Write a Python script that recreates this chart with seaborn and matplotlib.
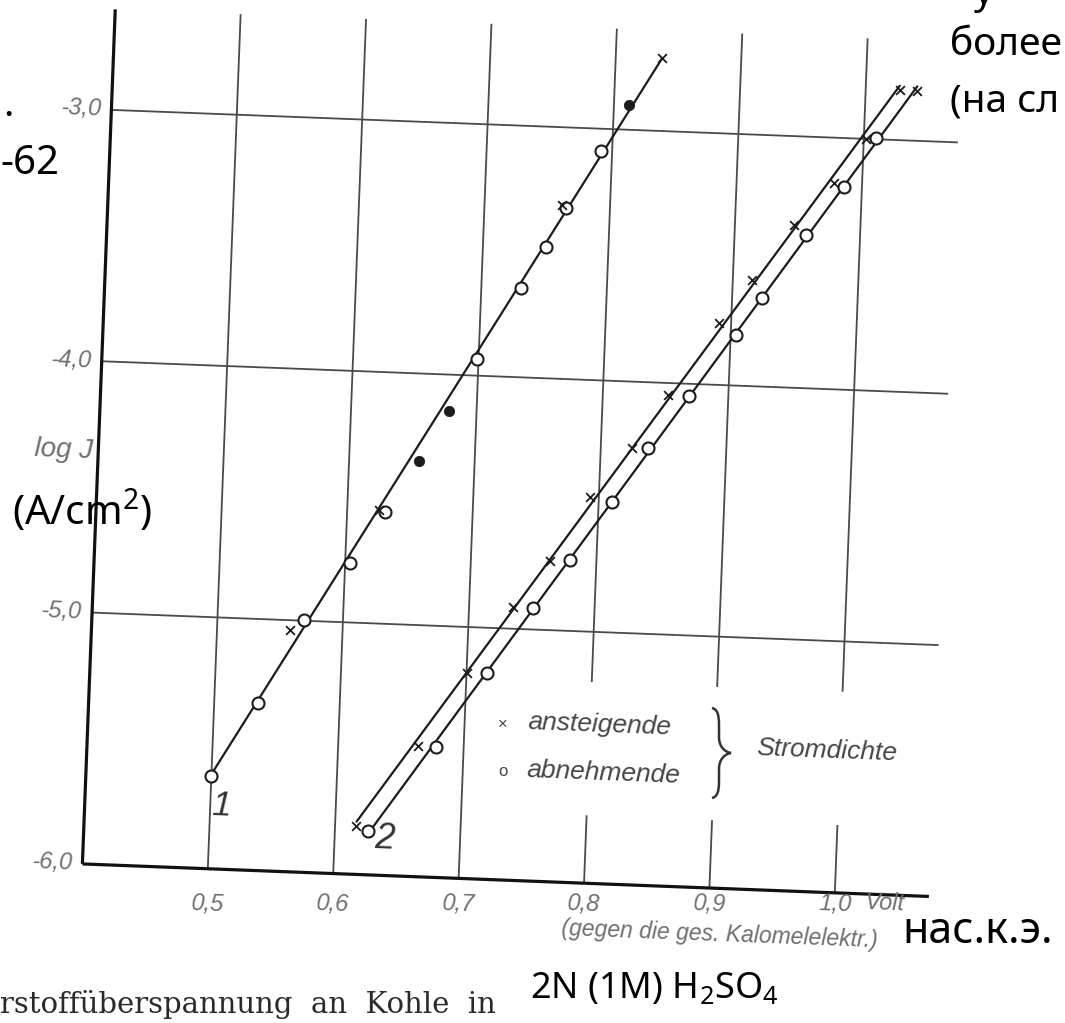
import numpy as np
import pandas as pd
import matplotlib
matplotlib.use("Agg")
import matplotlib.pyplot as plt
from matplotlib.path import Path
from matplotlib.patches import PathPatch, Rectangle
from matplotlib.transforms import Affine2D
import seaborn as sns

# ---------------- data ----------------
# curve 1
c1_x_V = [0.837, 0.762, 0.625, 0.558]
c1_x_L = [-2.709, -3.31, -4.55, -5.039]
c1_o_V = [0.791, 0.765, 0.750, 0.732, 0.699, 0.630, 0.604, 0.569, 0.535, 0.500]
c1_o_L = [-3.090, -3.320, -3.477, -3.646, -3.935, -4.556, -4.764, -4.997, -5.334, -5.630]
c1_f_V = [0.812, 0.678, 0.656]
c1_f_L = [-2.90, -4.143, -4.348]
# curve 2, upper line (ascending current density)
c2a_x_V = [1.027, 1.002, 0.978, 0.947, 0.915, 0.890, 0.852, 0.825, 0.793, 0.763, 0.735, 0.700, 0.664, 0.617]
c2a_x_L = [-2.800, -3.000, -3.179, -3.354, -3.579, -3.754, -4.047, -4.265, -4.466, -4.724, -4.913, -5.183, -5.482, -5.806]
# curve 2, lower line (descending current density)
c2b_x_V = [1.041]
c2b_x_L = [-2.801]
c2b_o_V = [1.010, 0.986, 0.957, 0.924, 0.904, 0.869, 0.838, 0.811, 0.779, 0.751, 0.716, 0.678, 0.626]
c2b_o_L = [-2.996, -3.193, -3.392, -3.647, -3.798, -4.050, -4.262, -4.480, -4.718, -4.916, -5.178, -5.482, -5.824]

x_ticks = [0.5, 0.6, 0.7, 0.8, 0.9, 1.0]
x_tick_labels = ["0,5", "0,6", "0,7", "0,8", "0,9", "1,0"]
y_ticks = [-6.0, -5.0, -4.0, -3.0]
y_tick_labels = ["-6,0", "-5,0", "-4,0", "-3,0"]
grid_y = [-5.0, -4.0, -3.0]

rows = []
def add(curve, mark, Vs, Ls):
    for v, l in zip(Vs, Ls):
        rows.append(dict(V=v, L=l, curve=curve, mark=mark))
add("1", "x", c1_x_V, c1_x_L)
add("1", "o", c1_o_V, c1_o_L)
add("1", "filled", c1_f_V, c1_f_L)
add("2a", "x", c2a_x_V, c2a_x_L)
add("2b", "x", c2b_x_V, c2b_x_L)
add("2b", "o", c2b_o_V, c2b_o_L)
df = pd.DataFrame(rows)

# ---------------- figure ----------------
sns.set_style("white")
plt.rcParams["mathtext.fontset"] = "custom"
plt.rcParams["mathtext.rm"] = "Noto Sans"
plt.rcParams["mathtext.it"] = "Noto Sans:italic"

W, H = 1065, 1023
fig = plt.figure(figsize=(W / 100, H / 100), dpi=100)
x0, x1, y0, y1 = 98.5, 945.6, 25.9, 881.1
ax = fig.add_axes([x0 / W, 1 - y1 / H, (x1 - x0) / W, (y1 - y0) / H])

XL, XR = 0.40, 1.075
YB, YT = -6.0, -2.6
ax.set_xlim(XL, XR)
ax.set_ylim(YB, YT)
ax.set_autoscale_on(False)
ax.axis("off")

# the scanned page is slightly rotated: rotate the whole plotting frame
ANG = 2.2
R = Affine2D().rotate_deg_around(537.7, H - 453.5, -ANG)
T = ax.transData + R

ink = "#1c1c1c"
gridc = "#4a4a4a"
labc = "#6e6e6e"
sans = ["Liberation Sans", "DejaVu Sans"]
over = ["Noto Sans", "DejaVu Sans"]

def rotated(artist):
    artist.set_transform(T)
    artist.set_clip_on(False)

# grid
rotated(ax.vlines(x_ticks, YB, YT, color=gridc, lw=1.3, zorder=1))
rotated(ax.hlines(grid_y, XL, XR, color=gridc, lw=1.3, zorder=1))
# axis lines
for xs, ys in (([XL, XL], [YB, YT]), ([XL, XR], [YB, YB])):
    rotated(ax.plot(xs, ys, color="#111111", lw=2.3, zorder=2,
                    solid_capstyle="butt")[0])

# white area of the legend interrupts the grid
box = Rectangle((0.72, -5.73), 0.36, 0.53, facecolor="white", edgecolor="none", zorder=2)
ax.add_patch(box)
rotated(box)

# fitted straight lines per curve
for cv, sub in df[df["mark"] != "filled"].groupby("curve"):
    n0 = len(ax.lines)
    sns.regplot(data=sub, x="V", y="L", scatter=False, ci=None, truncate=True,
                line_kws=dict(color=ink, lw=1.6, zorder=3), ax=ax)
    for ln in ax.lines[n0:]:
        rotated(ln)

# markers
def scat(**kw):
    before = list(ax.collections)
    sns.scatterplot(ax=ax, legend=False, **kw)
    for c in ax.collections:
        if c not in before:
            c.set_offset_transform(T)
            c.set_clip_on(False)

scat(data=df[df["mark"] == "o"], x="V", y="L", marker="o", s=75,
     facecolor="white", edgecolor=ink, linewidth=1.5, zorder=4)
scat(data=df[df["mark"] == "filled"], x="V", y="L", marker="o", s=55,
     color=ink, edgecolor=ink, zorder=4)
scat(data=df[df["mark"] == "x"], x="V", y="L", marker="x", s=40,
     color=ink, linewidth=1.3, zorder=4)
ax.set_xlim(XL, XR)
ax.set_ylim(YB, YT)

# tick labels
for v, lab in zip(x_ticks, x_tick_labels):
    xd, yd = T.transform((v, YB))
    fig.text(xd / W, 1 - 904 / H, lab, fontsize=17, style="italic", color=labc,
             family=sans, ha="center", va="center", rotation=-ANG, rotation_mode="anchor")
TY = ax.transData + Affine2D().translate(-10, 0) + R
for l, lab in zip(y_ticks, y_tick_labels):
    ax.text(XL, l, lab, transform=TY, fontsize=17, style="italic", color=labc,
            family=sans, ha="right", va="center", rotation=-ANG,
            rotation_mode="anchor", clip_on=False)

# curve numbers
ax.text(0.5086, -5.748, "1", transform=T, fontsize=25, style="italic", color="#333333",
        family=sans, ha="center", va="center", rotation=-ANG, rotation_mode="anchor",
        zorder=5, clip_on=False)
ax.text(0.640, -5.855, "2", transform=T, fontsize=26, style="italic", color="#333333",
        family=sans, ha="center", va="center", rotation=-ANG, rotation_mode="anchor",
        zorder=5, clip_on=False)

def P(x, y):
    return x / W, 1 - y / H

# axis annotations
fig.text(*P(64, 450), "log J", fontsize=20, style="italic", color=labc,
         family=sans, ha="center", va="center", rotation=-ANG, rotation_mode="anchor")
xd1, _ = T.transform((x_ticks[-1], YB))
fig.text(*P(xd1 + 30, 903), "Volt", fontsize=17, style="italic", color=labc,
         family=sans, ha="left", va="center", rotation=-ANG, rotation_mode="anchor")
fig.text(*P(720, 935), "(gegen die ges. Kalomelelektr.)", fontsize=16.5,
         style="italic", color=labc, family=sans, ha="center", va="center",
         rotation=-ANG, rotation_mode="anchor")

# legend
lc = "#444444"
fig.text(*P(503, 724), "×", fontsize=12, color=lc, ha="center", va="center", family=sans)
fig.text(*P(503, 772), "o", fontsize=12, color=lc, ha="center", va="center", family=sans)
fig.text(*P(528, 722), "ansteigende", fontsize=19, style="italic", color=lc,
         family=sans, ha="left", va="center", rotation=-ANG, rotation_mode="anchor")
fig.text(*P(527, 770), "abnehmende", fontsize=19, style="italic", color=lc,
         family=sans, ha="left", va="center", rotation=-ANG, rotation_mode="anchor")
fig.text(*P(757, 748), "Stromdichte", fontsize=19, style="italic", color=lc,
         family=sans, ha="left", va="center", rotation=-ANG, rotation_mode="anchor")

# brace
bx, by0, by1, tip = 718, 708, 798, 731
ym = (by0 + by1) / 2
pts = [(bx - 6, by0), (bx + 2, by0 + 2), (bx + 1, by0 + 12), (bx + 1, ym - 16),
       (bx + 1, ym - 6), (tip - 6, ym - 1), (tip, ym),
       (tip - 6, ym + 1), (bx + 1, ym + 6), (bx + 1, ym + 16),
       (bx + 1, by1 - 12), (bx + 2, by1 - 2), (bx - 6, by1)]
codes = [Path.MOVETO] + [Path.CURVE4] * 12
verts = [P(x, y) for x, y in pts]
fig.add_artist(PathPatch(Path(verts, codes), transform=fig.transFigure,
                         facecolor="none", edgecolor="#333333", lw=1.8))

# overlay annotations
fig.text(*P(3, 116), ".", fontsize=28, color="black", family=over, ha="left", va="baseline")
fig.text(*P(0, 174), "-62", fontsize=29, color="black", family=over, ha="left", va="baseline")
fig.text(*P(12, 525), "(A/cm$^2$)", fontsize=29, color="black", family=over,
         ha="left", va="baseline")
fig.text(*P(950, 55), "более", fontsize=28, color="black", family=over, ha="left", va="baseline")
fig.text(*P(950, 111), "(на сл", fontsize=28, color="black", family=over, ha="left", va="baseline")
fig.text(*P(974, 4), "у", fontsize=28, color="black", family=over, ha="left", va="baseline")
fig.text(*P(902, 943), "нас.к.э.", fontsize=31, color="black", family=over,
         ha="left", va="baseline")
fig.text(*P(0, 1013), "rstoffüberspannung  an  Kohle  in", fontsize=21,
         color="#2a2a2a", family=["DejaVu Serif"], ha="left", va="baseline")
fig.text(*P(530, 998), "2N (1M) H$_2$SO$_4$", fontsize=26, color="black", family=over,
         ha="left", va="baseline")

fig.savefig("out.png", dpi=100, facecolor="white")
